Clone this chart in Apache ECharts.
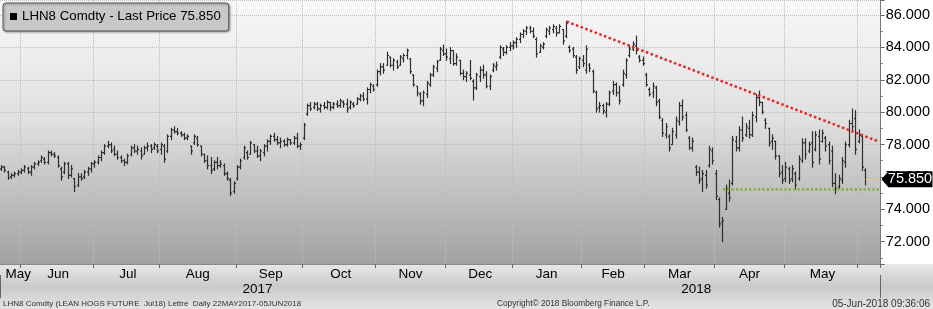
<!DOCTYPE html>
<html><head><meta charset="utf-8">
<script src="https://cdn.jsdelivr.net/npm/echarts@6/dist/echarts.min.js"></script>
<style>html,body{margin:0;padding:0;background:#fff}#c{width:933px;height:309px}</style>
</head><body><div id="c"></div>
<script>
// ---- DATA ----
const tradingDays = {
  '2017-05': [23,24,25,26,30,31],
  '2017-06': [1,2,5,6,7,8,9,12,13,14,15,16,19,20,21,22,23,26,27,28,29,30],
  '2017-07': [3,5,6,7,10,11,12,13,14,17,18,19,20,21,24,25,26,27,28,31],
  '2017-08': [1,2,3,4,7,8,9,10,11,14,15,16,17,18,21,22,23,24,25,28,29,30,31],
  '2017-09': [1,5,6,7,8,11,12,13,14,15,18,19,20,21,22,25,26,27,28,29],
  '2017-10': [2,3,4,5,6,9,10,11,12,13,16,17,18,19,20,23,24,25,26,27,30,31],
  '2017-11': [1,2,3,6,7,8,9,10,13,14,15,16,17,20,21,22,24,27,28,29,30],
  '2017-12': [1,4,5,6,7,8,11,12,13,14,15,18,19,20,21,22,26,27,28,29],
  '2018-01': [2,3,4,5,8,9,10,11,12,16,17,18,19,22,23,24,25,26,29,30,31],
  '2018-02': [1,2,5,6,7,8,9,12,13,14,15,16,20,21,22,23,26,27,28],
  '2018-03': [1,2,5,6,7,8,9,12,13,14,15,16,19,20,21,22,23,26,27,28,29],
  '2018-04': [2,3,4,5,6,9,10,11,12,13,16,17,18,19,20,23,24,25,26,27,30],
  '2018-05': [1,2,3,4,7,8,9,10,11,14,15,16,17,18,21,22,23,24,25,29,30,31],
  '2018-06': [1,4,5]
};
// empty slots at the right end of the axis
const padDays = ['2018-06-06','2018-06-07','2018-06-08','2018-06-11'];
const monthNames = ['Jan','Feb','Mar','Apr','May','Jun','Jul','Aug','Sep','Oct','Nov','Dec'];

// daily bars: [open, high, low, close]
const bars = [
[76.5,76.7,76.4,76.6],[76.6,76.65,76.3,76.4],[76.3,76.35,75.85,75.95],[76.0,76.2,75.9,76.1],[76.1,76.3,76.0,76.2],
[76.2,76.4,76.1,76.3],[76.3,76.5,76.2,76.4],[76.4,76.7,76.3,76.6],[76.5,76.6,76.2,76.3],[76.3,76.7,76.1,76.6],
[76.6,76.9,76.5,76.8],[76.8,77.0,76.7,76.9],[77.0,77.3,76.9,77.2],[77.1,77.2,76.8,76.9],[76.9,77.6,76.8,77.5],
[77.5,77.6,77.3,77.4],[77.4,77.5,77.2,77.3],[77.2,77.3,76.6,76.7],[76.5,76.6,75.8,76.0],[76.3,76.9,76.2,76.8],
[76.8,76.9,75.9,76.1],[76.1,76.7,76.0,76.5],[75.9,75.9,75.1,75.4],[75.5,76.2,75.4,76.0],[76.0,76.2,75.8,75.9],
[76.0,76.4,75.9,76.3],[76.3,76.6,76.1,76.5],[76.5,76.9,76.3,76.8],[76.8,77.0,76.6,76.9],[76.9,77.3,76.8,77.2],
[77.2,77.6,77.0,77.5],[77.5,78.0,77.4,77.9],[77.9,78.2,77.8,78.0],[78.0,78.1,77.5,77.6],[77.7,77.9,77.3,77.4],
[77.4,77.6,77.1,77.2],[77.2,77.3,76.9,77.0],[77.0,77.1,76.7,76.9],[76.9,77.4,76.8,77.3],[77.4,77.9,77.3,77.8],
[77.8,78.0,77.5,77.6],[77.6,77.9,77.4,77.7],[77.6,77.8,77.1,77.3],[77.4,77.9,77.4,77.8],[77.8,78.1,77.6,77.9],
[77.9,78.0,77.5,77.7],[77.8,78.1,77.7,78.0],[77.9,78.0,77.5,77.6],[77.7,78.1,77.4,78.0],[77.9,78.0,76.9,77.1],
[77.6,78.6,77.5,78.5],[78.5,79.0,78.3,78.9],[78.9,79.1,78.7,78.8],[78.8,79.0,78.6,78.7],[78.7,78.8,78.5,78.6],
[78.6,78.7,78.3,78.4],[78.4,78.6,78.3,78.5],[77.9,77.9,77.4,77.6],[78.1,78.6,78.0,78.5],[78.4,78.5,77.9,78.0],
[77.9,77.9,77.3,77.4],[77.4,77.4,76.9,77.0],[77.0,77.3,76.5,76.7],[76.7,77.2,76.2,76.4],[76.5,77.0,76.4,76.9],
[76.9,77.2,76.5,76.7],[76.7,77.0,76.6,76.8],[76.7,76.8,76.1,76.2],[76.2,76.3,75.8,75.9],[75.8,75.9,74.85,75.0],
[75.1,75.7,75.0,75.6],[75.9,76.7,75.8,76.6],[76.6,77.1,76.5,77.0],[77.2,77.9,77.1,77.8],[77.5,77.6,77.1,77.2],
[77.4,78.2,77.4,78.1],[78.0,78.0,77.5,77.6],[77.6,77.9,77.2,77.3],[77.3,77.7,77.0,77.6],[77.5,78.0,77.3,77.9],
[77.9,78.3,77.6,78.2],[78.2,78.6,78.0,78.5],[78.5,78.7,78.2,78.3],[78.3,78.5,78.0,78.1],[78.1,78.4,77.8,78.2],
[78.2,78.3,77.9,78.0],[78.0,78.4,77.9,78.3],[78.3,78.3,78.0,78.1],[78.1,78.5,78.0,78.4],[78.4,78.7,77.8,77.9],
[77.9,78.1,77.7,78.0],[78.4,79.3,78.3,79.2],[79.9,80.5,79.8,80.4],[80.4,80.6,80.1,80.2],[80.3,80.6,80.2,80.5],
[80.5,80.6,80.1,80.2],[80.2,80.5,80.0,80.4],[80.4,80.6,80.2,80.3],[80.3,80.7,80.2,80.6],[80.6,80.6,80.1,80.3],
[80.3,80.6,80.2,80.5],[80.5,80.7,80.3,80.4],[80.4,80.8,80.3,80.7],[80.6,80.7,80.3,80.5],[80.5,80.8,80.0,80.2],
[80.3,80.7,80.2,80.6],[80.5,80.6,80.3,80.4],[80.5,80.9,80.5,80.8],[80.8,81.1,80.7,81.0],[81.0,81.2,80.7,80.8],
[80.8,81.5,80.5,81.4],[81.4,81.8,81.2,81.7],[81.6,81.7,81.3,81.4],[81.7,82.6,81.6,82.5],[82.5,83.0,82.3,82.8],
[82.8,83.0,82.4,82.6],[82.9,83.7,82.9,83.5],[83.4,83.4,82.8,82.9],[82.9,83.3,82.6,83.2],[83.1,83.2,82.7,82.8],
[82.9,83.5,82.9,83.4],[83.3,83.6,83.1,83.5],[83.5,83.9,83.3,83.8],[83.3,83.3,82.4,82.5],[82.3,82.3,81.6,81.7],
[81.6,81.6,81.0,81.2],[81.1,81.2,80.5,80.7],[80.7,81.3,80.4,81.2],[81.1,81.9,80.9,81.8],[81.7,82.4,81.6,82.3],
[82.3,82.9,82.2,82.8],[82.7,83.2,82.5,83.1],[83.2,84.0,83.2,83.9],[83.8,84.15,83.5,83.6],[83.6,83.9,83.2,83.4],
[83.3,84.0,83.0,83.8],[83.8,83.8,82.9,83.0],[83.0,83.6,82.9,83.4],[83.2,83.2,82.3,82.4],[82.4,82.6,82.0,82.2],
[82.2,82.5,81.9,82.4],[82.3,83.2,82.0,82.1],[81.9,82.0,80.75,81.5],[81.5,82.4,81.4,82.3],[82.2,82.8,81.9,82.6],
[82.6,82.9,82.1,82.3],[82.3,82.5,81.5,81.6],[81.6,82.3,81.4,82.2],[82.6,83.0,82.5,82.9],[82.8,83.1,82.6,82.9],
[83.4,84.1,83.3,84.0],[83.9,84.0,83.5,83.7],[83.7,84.1,83.6,84.0],[84.0,84.3,83.8,84.1],[84.1,84.4,83.9,84.3],
[84.3,84.6,84.0,84.5],[84.5,84.9,84.3,84.8],[84.8,85.1,84.6,85.0],[85.0,85.3,84.8,85.2],[85.2,85.3,84.9,85.0],
[85.0,85.2,84.6,84.7],[84.5,84.6,83.4,83.6],[83.7,84.2,83.7,84.1],[84.0,84.3,83.9,84.2],[84.7,85.2,84.6,85.1],
[85.0,85.3,84.8,85.2],[85.1,85.4,84.9,85.3],[85.2,85.3,84.7,84.9],[84.9,85.4,84.9,85.3],[85.1,85.1,84.2,84.4],
[84.7,85.6,84.6,85.5],[84.0,84.1,83.7,83.8],[83.9,84.0,83.4,83.5],[83.4,83.5,82.4,82.6],[82.8,83.4,82.7,83.3],
[83.2,83.5,82.8,83.0],[82.6,84.1,82.4,83.9],[82.9,83.0,82.5,82.7],[82.5,82.6,81.2,81.3],[81.2,81.3,80.0,80.2],
[80.3,80.6,80.0,80.4],[80.4,80.5,79.9,80.1],[80.0,80.6,79.7,80.5],[80.5,81.3,80.4,81.2],[81.3,81.9,81.1,81.7],
[81.7,81.8,81.0,81.2],[81.2,81.6,80.5,80.7],[81.7,82.6,81.6,82.4],[82.3,83.3,82.1,83.2],[83.5,84.1,83.4,83.9],
[83.9,84.35,83.8,84.2],[84.1,84.7,83.6,83.8],[83.4,83.5,83.1,83.2],[83.2,83.4,82.9,83.0],[82.3,82.4,81.6,81.7],
[81.4,81.5,81.0,81.1],[81.2,81.8,80.9,81.6],[81.5,81.6,80.4,80.6],[80.7,80.8,79.6,79.7],[79.5,79.6,78.5,78.7],
[78.6,79.3,78.4,79.1],[78.5,78.6,77.6,77.8],[78.0,79.0,78.0,78.8],[78.6,79.7,78.4,79.5],[79.4,80.6,79.2,80.4],
[80.4,80.75,79.5,79.7],[79.8,80.0,78.8,78.9],[78.4,78.5,77.7,77.8],[77.8,78.4,77.6,78.2],[76.6,76.7,76.1,76.3],
[76.3,76.6,75.6,75.8],[75.9,76.4,75.1,76.2],[76.1,76.4,75.3,75.5],[76.7,77.9,76.6,77.7],[77.6,77.8,76.8,77.0],
[76.2,76.4,74.6,74.8],[74.6,74.7,72.9,73.1],[73.2,73.5,72.0,73.3],[74.0,75.5,74.0,75.3],[75.0,75.8,74.5,74.7],
[75.6,78.5,75.5,78.3],[78.2,78.5,77.6,77.8],[77.8,79.1,77.6,78.9],[78.9,79.7,78.2,78.4],[78.6,79.3,78.5,79.1],
[79.0,79.5,78.4,78.6],[78.6,80.0,78.5,79.8],[79.7,81.1,79.4,80.9],[80.9,81.3,80.4,80.6],[80.6,80.6,79.9,80.0],
[79.5,79.6,79.0,79.3],[79.0,79.0,77.9,78.1],[78.2,78.6,77.7,78.4],[78.2,78.2,77.1,77.3],[77.3,77.3,76.0,76.2],
[76.3,76.7,75.6,75.8],[75.9,76.9,75.7,76.6],[76.5,76.6,75.6,75.8],[75.9,76.7,75.7,76.5],[76.2,76.3,75.25,75.5],
[75.9,77.3,75.8,77.1],[77.0,78.35,76.9,78.1],[78.1,78.35,77.1,77.4],[77.6,78.15,77.5,78.0],[78.1,78.8,76.6,76.9],
[77.7,78.8,77.6,78.6],[78.5,78.9,76.8,77.1],[78.2,78.9,78.15,78.7],[78.4,78.5,77.6,77.9],[78.0,78.15,76.8,77.0],
[77.6,77.9,75.4,75.6],[75.6,76.2,74.96,75.3],[75.4,76.1,75.3,75.9],[75.8,77.2,75.6,77.0],[76.9,78.15,76.6,78.0],
[78.0,79.5,77.85,79.3],[79.3,80.2,78.9,79.1],[79.6,80.1,77.4,77.7],[78.2,78.9,78.1,78.6],[78.5,78.5,76.4,76.6],
[76.4,76.5,75.5,75.85]
];
const lastPrice = 75.85;
// trend lines: [category index, price]
const resistanceLine = [[170, 85.6], [264, 78.18]];
const supportLine = [[217, 75.23], [264, 75.23]];
const lastPriceLine = [[260, 75.85], [264, 75.85]];
const yMin = 70.62, yMax = 86.93;

// ---- BUILD ----
const dates = [];
Object.keys(tradingDays).forEach(m => tradingDays[m].forEach(d => dates.push(m + '-' + String(d).padStart(2, '0'))));
const categories = dates.concat(padDays);

const monthStarts = new Set(), monthLabelIdx = new Set();
let s = 0;
for (let i = 1; i <= dates.length; i++) {
  if (i === dates.length || dates[i].slice(0, 7) !== dates[s].slice(0, 7)) {
    if (s > 0) monthStarts.add(s);
    if (i - s >= 5) monthLabelIdx.add(s === 0 ? i - 1 : Math.floor((s + i) / 2));
    s = i;
  }
}
const yearStarts = new Set(), yearLabelIdx = new Set();
s = 0;
for (let i = 1; i <= categories.length; i++) {
  if (i === categories.length || categories[i].slice(0, 4) !== categories[s].slice(0, 4)) {
    if (s > 0) yearStarts.add(s);
    yearLabelIdx.add(Math.floor((s + i) / 2));
    s = i;
  }
}

const seriesName = 'LHN8 Comdty - Last Price ' + lastPrice.toFixed(3);
const FONT = 'Liberation Sans';

function renderOHLC(params, api) {
  const i = api.value(0);
  const o = api.coord([i, api.value(1)]);
  const h = api.coord([i, api.value(2)]);
  const l = api.coord([i, api.value(3)]);
  const c = api.coord([i, api.value(4)]);
  const band = api.size([1, 0])[0];
  const x = Math.floor(h[0]) + 0.5;
  const w = Math.max(1.5, band * 0.45);
  const st = { stroke: '#2e2e2e', lineWidth: 1.2 };
  return { type: 'group', children: [
    { type: 'line', shape: { x1: x, y1: h[1] - 0.5, x2: x, y2: l[1] + 0.5 }, style: st },
    { type: 'line', shape: { x1: x - w, y1: o[1], x2: x, y2: o[1] }, style: st },
    { type: 'line', shape: { x1: x, y1: c[1], x2: x + w, y2: c[1] }, style: st }
  ]};
}

const chart = echarts.init(document.getElementById('c'), null, { renderer: 'canvas' });
const option = {
  animation: false,
  backgroundColor: '#ffffff',
  textStyle: { fontFamily: FONT },
  grid: {
    left: 0, right: 52, top: 0, bottom: 45, show: true, borderWidth: 0,
    backgroundColor: new echarts.graphic.LinearGradient(0, 0, 0, 1, [
      { offset: 0, color: '#f8f8f8' }, { offset: 0.45, color: '#e0e0e0' }, { offset: 1, color: '#a2a2a2' }
    ])
  },
  legend: {
    left: 3, top: 3, selectedMode: false,
    data: [{ name: seriesName, icon: 'rect' }],
    itemWidth: 7, itemHeight: 7,
    backgroundColor: '#c8c8c8', borderColor: '#555', borderWidth: 1, borderRadius: 3,
    padding: [7, 8, 8, 7],
    shadowBlur: 2, shadowColor: 'rgba(0,0,0,0.35)', shadowOffsetX: 1, shadowOffsetY: 1,
    textStyle: { fontSize: 13.3, color: '#000', fontFamily: FONT }
  },
  xAxis: [{
    type: 'category', data: categories, boundaryGap: true, gridIndex: 0,
    axisLine: { show: true, lineStyle: { color: '#8a8a8a' } },
    axisTick: { show: true, interval: (i) => monthStarts.has(i), length: 4, lineStyle: { color: '#666' } },
    axisLabel: { interval: (i) => monthLabelIdx.has(i), formatter: (v) => monthNames[+v.slice(5, 7) - 1],
      fontSize: 13.5, color: '#000', margin: 3, fontFamily: FONT },
    splitLine: { show: true, interval: (i) => monthStarts.has(i), lineStyle: { color: '#bcbcbc', type: 'dotted' } }
  }, {
    type: 'category', data: categories, boundaryGap: true, gridIndex: 0, position: 'bottom', offset: 11,
    axisLine: { show: false },
    axisTick: { show: true, interval: (i) => yearStarts.has(i), length: 23, lineStyle: { color: '#666' } },
    axisLabel: { interval: (i) => yearLabelIdx.has(i), formatter: (v) => v.slice(0, 4),
      fontSize: 13.5, color: '#000', margin: 7, fontFamily: FONT },
    splitLine: { show: false }
  }],
  yAxis: {
    type: 'value', position: 'right', min: yMin, max: yMax, splitNumber: 8,
    axisLine: { show: true, lineStyle: { color: '#777' } },
    axisTick: { show: true, length: 4, lineStyle: { color: '#666' } },
    minorTick: { show: true, splitNumber: 2, length: 2, lineStyle: { color: '#666' } },
    axisLabel: { margin: 5, fontSize: 14.5, color: '#000', fontFamily: FONT,
      formatter: (v) => (Math.abs(v - Math.round(v)) < 1e-6 && Math.round(v) % 2 === 0) ? v.toFixed(3) : '' },
    splitLine: { show: true, lineStyle: { color: '#bcbcbc', type: 'dotted' } }
  },
  series: [{
    name: seriesName, type: 'custom', xAxisIndex: 0,
    itemStyle: { color: '#000' },
    encode: { x: 0, y: [1, 2, 3, 4] },
    renderItem: renderOHLC,
    clip: true,
    data: bars.map((b, i) => [i, b[0], b[1], b[2], b[3]])
  }, {
    name: 'resistance', type: 'line', xAxisIndex: 0, data: resistanceLine, symbol: 'none', silent: true,
    lineStyle: { color: '#e5252a', width: 2.5, type: 'dotted' }
  }, {
    name: 'support', type: 'line', xAxisIndex: 0, data: supportLine, symbol: 'none', silent: true,
    lineStyle: { color: '#7fae2a', width: 2.2, type: 'dotted' }
  }, {
    name: 'last', type: 'line', xAxisIndex: 0, data: lastPriceLine, symbol: 'none', silent: true,
    lineStyle: { color: '#d8c48e', width: 1.5 },
    markPoint: {
      symbol: 'path://M0,8L7,0L52,0L52,16L7,16Z', symbolSize: [51, 16], symbolOffset: [28, 0],
      itemStyle: { color: '#000' }, silent: true,
      label: { show: true, position: 'inside', formatter: lastPrice.toFixed(3), color: '#fff',
        fontSize: 14.5, fontFamily: FONT, offset: [3, 0] },
      data: [{ coord: [264, lastPrice] }]
    }
  }],
  graphic: [
    { type: 'rect', left: 0, top: 264, z: -10, silent: true, shape: { width: 933, height: 45 },
      style: { fill: new echarts.graphic.LinearGradient(0, 0, 0, 1, [
        { offset: 0, color: '#e8e8e8' }, { offset: 0.5, color: '#cacaca' }, { offset: 1, color: '#e4e4e4' }]) } },
    { type: 'text', left: 3, top: 300, z: 10, silent: true,
      style: { text: 'LHN8 Comdty (LEAN HOGS FUTURE  Jul18) Lettre  Daily 22MAY2017-05JUN2018', fill: '#333',
        fontSize: 8, fontFamily: FONT } },
    { type: 'text', left: 497, top: 300, z: 10, silent: true,
      style: { text: 'Copyright\u00a9 2018 Bloomberg Finance L.P.', fill: '#333', fontSize: 8.3, fontFamily: FONT } },
    { type: 'text', right: 3, top: 299, z: 10, silent: true,
      style: { text: '05-Jun-2018 09:36:06', fill: '#333', fontSize: 10, fontFamily: FONT } }
  ]
};
chart.setOption(option);
</script>
</body></html>
